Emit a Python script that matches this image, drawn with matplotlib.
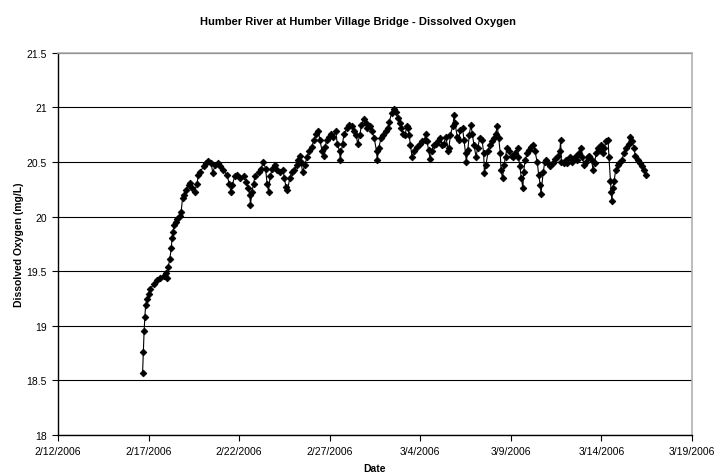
import matplotlib
matplotlib.use("Agg")
import matplotlib.pyplot as plt
import numpy as np
import pandas as pd

plt.rcParams['font.family'] = ['Liberation Sans', 'DejaVu Sans']

# Dissolved oxygen readings, hours after the first reading (2006-02-16 16:00)
start = pd.Timestamp("2006-02-16 16:00")
hours = [
    0, 1, 2, 3, 4, 6, 8, 10, 15, 19, 23, 28, 31, 33, 34, 36, 38, 39, 40, 42,
    44, 46, 49, 51, 53, 55, 57, 61, 63, 66, 69, 72, 74, 76, 81, 84, 87, 91, 93, 96,
    100, 103, 107, 112, 115, 117, 119, 122, 125, 129, 134, 137, 140, 142, 143, 145, 147, 149, 154, 157,
    160, 163, 165, 167, 169, 172, 175, 178, 182, 186, 188, 190, 192, 195, 198, 201, 204, 206, 208, 210,
    212, 215, 218, 221, 224, 227, 230, 233, 235, 238, 240, 242, 244, 247, 250, 253, 256, 258, 261, 262,
    265, 267, 271, 274, 277, 280, 283, 285, 288, 290, 293, 296, 298, 301, 304, 307, 310, 311, 313, 316,
    318, 322, 325, 327, 330, 333, 336, 338, 341, 343, 345, 348, 350, 352, 353, 355, 357, 360, 364, 367,
    370, 374, 375, 377, 379, 381, 383, 386, 389, 391, 394, 397, 399, 402, 405, 406, 408, 411, 413, 414,
    417, 419, 421, 424, 426, 428, 429, 431, 433, 435, 437, 439, 442, 444, 447, 450, 452, 453, 455, 458,
    460, 463, 466, 468, 470, 472, 474, 475, 477, 479, 481, 483, 486, 489, 491, 494, 497, 498, 500, 502,
    504, 505, 507, 510, 512, 515, 518, 520, 523, 525, 527, 528, 531, 533, 534, 537, 540, 544, 547, 550,
    553, 554, 555, 558, 561, 563, 566, 569, 571, 574, 576, 579, 581, 583, 585, 588, 590, 592, 595, 597,
    599, 601, 603, 606, 608, 610, 612, 614, 617, 618, 620, 621, 622, 623, 625, 627, 630, 632, 635, 638,
    641, 644, 646, 649, 651, 653, 656, 659, 662, 664, 667,
]
oxygen = [
    18.57, 18.76, 18.95, 19.08, 19.19, 19.25, 19.29, 19.34, 19.38, 19.42, 19.44, 19.46, 19.48, 19.44, 19.54, 19.61, 19.71, 19.80, 19.86, 19.92,
    19.95, 19.98, 20.01, 20.04, 20.17, 20.20, 20.24, 20.29, 20.31, 20.26, 20.23, 20.30, 20.38, 20.41, 20.46, 20.49, 20.51, 20.49, 20.40, 20.47,
    20.49, 20.46, 20.43, 20.38, 20.30, 20.23, 20.29, 20.37, 20.38, 20.35, 20.37, 20.32, 20.26, 20.20, 20.11, 20.23, 20.30, 20.37, 20.41, 20.44,
    20.50, 20.44, 20.30, 20.23, 20.37, 20.44, 20.47, 20.43, 20.41, 20.43, 20.35, 20.27, 20.24, 20.35, 20.41, 20.43, 20.47, 20.52, 20.56, 20.50,
    20.41, 20.47, 20.55, 20.60, 20.64, 20.70, 20.76, 20.78, 20.70, 20.60, 20.56, 20.64, 20.70, 20.73, 20.76, 20.73, 20.78, 20.67, 20.60, 20.52,
    20.67, 20.76, 20.81, 20.84, 20.83, 20.78, 20.75, 20.67, 20.75, 20.84, 20.89, 20.86, 20.81, 20.83, 20.78, 20.72, 20.60, 20.52, 20.63, 20.72,
    20.75, 20.78, 20.81, 20.87, 20.95, 20.99, 20.96, 20.90, 20.86, 20.81, 20.76, 20.75, 20.83, 20.81, 20.75, 20.66, 20.55, 20.60, 20.64, 20.67,
    20.69, 20.70, 20.76, 20.69, 20.61, 20.53, 20.60, 20.66, 20.67, 20.69, 20.72, 20.66, 20.67, 20.73, 20.60, 20.63, 20.75, 20.83, 20.93, 20.86,
    20.73, 20.70, 20.79, 20.81, 20.70, 20.58, 20.50, 20.61, 20.75, 20.84, 20.76, 20.66, 20.55, 20.63, 20.72, 20.70, 20.58, 20.40, 20.47, 20.60,
    20.66, 20.69, 20.72, 20.76, 20.83, 20.72, 20.58, 20.43, 20.35, 20.47, 20.55, 20.63, 20.60, 20.56, 20.55, 20.58, 20.63, 20.55, 20.46, 20.35,
    20.26, 20.41, 20.52, 20.58, 20.61, 20.64, 20.66, 20.60, 20.50, 20.38, 20.29, 20.21, 20.41, 20.50, 20.52, 20.49, 20.46, 20.49, 20.53, 20.56,
    20.60, 20.70, 20.50, 20.49, 20.52, 20.49, 20.55, 20.50, 20.53, 20.56, 20.52, 20.58, 20.63, 20.55, 20.47, 20.50, 20.55, 20.56, 20.52, 20.43,
    20.49, 20.58, 20.63, 20.61, 20.66, 20.58, 20.63, 20.69, 20.70, 20.55, 20.33, 20.23, 20.14, 20.26, 20.33, 20.43, 20.47, 20.49, 20.52, 20.58,
    20.63, 20.67, 20.73, 20.69, 20.63, 20.56, 20.52, 20.49, 20.46, 20.43, 20.38,
]
tick_dates = ["2006-02-12", "2006-02-17", "2006-02-22", "2006-02-27",
              "2006-03-04", "2006-03-09", "2006-03-14", "2006-03-19"]

dates = start + pd.to_timedelta(hours, unit="h")
ticks = pd.to_datetime(tick_dates)
tick_labels = [f"{d.month}/{d.day}/{d.year}" for d in ticks]

fig = plt.figure(figsize=(7.17, 4.77), dpi=100)
ax = fig.add_axes([0.081, 0.086, 0.884, 0.801])

ax.plot(dates, oxygen, color="black", linewidth=0.8, marker="D",
        markersize=3.4, markeredgewidth=0.6,
        markerfacecolor="black", markeredgecolor="black", zorder=3)

ax.set_xlim(ticks[0], ticks[-1])
ax.set_ylim(18, 21.5)
ax.set_xticks(ticks)
ax.set_xticklabels(tick_labels)
ax.set_yticks(np.arange(18, 21.51, 0.5))
ax.set_yticklabels(["18", "18.5", "19", "19.5", "20", "20.5", "21", "21.5"])
ax.tick_params(labelsize=7.5, length=4, width=0.8, direction="out", pad=4)

ax.yaxis.grid(True, color="black", linewidth=0.8)
ax.set_axisbelow(True)
for side in ["top", "right"]:
    ax.spines[side].set_color("#b0b0b0")
    ax.spines[side].set_linewidth(1.2)
for side in ["left", "bottom"]:
    ax.spines[side].set_linewidth(1.0)

ax.set_xlabel("Date", fontsize=7.5, fontweight="bold", labelpad=5)
ax.set_ylabel("Dissolved Oxygen (mg/L)", fontsize=7.5, fontweight="bold", labelpad=2)
fig.suptitle("Humber River at Humber Village Bridge - Dissolved Oxygen",
             fontsize=8, fontweight="bold", y=0.965)

fig.savefig("out.png", dpi=100)
